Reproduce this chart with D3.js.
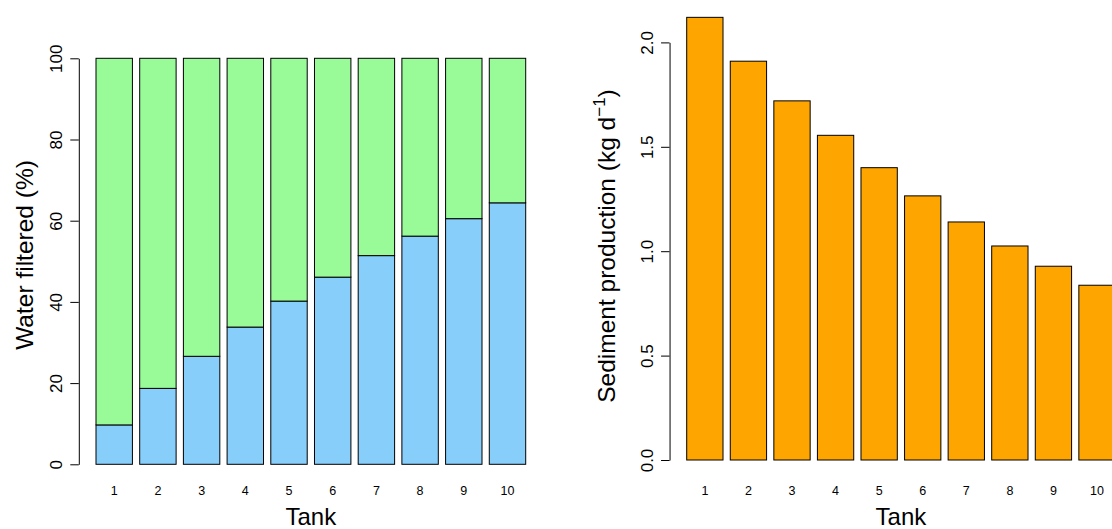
<!DOCTYPE html>
<html>
<head>
<meta charset="utf-8">
<script src="https://cdn.jsdelivr.net/npm/d3@7"></script>
<style>
  body { margin: 0; background: #fff; }
  svg { display: block; font-family: "Liberation Sans", Arial, sans-serif; }
  .axis path, .axis line { stroke: #000; }
</style>
</head>
<body>
<div id="plot"></div>
<script>
let tanks = ['1', '2', '3', '4', '5', '6', '7', '8', '9', '10'];
let filtered = [9.7, 18.7, 26.6, 33.8, 40.2, 46.1, 51.4, 56.2, 60.5, 64.4];
let unfiltered = [90.3, 81.3, 73.4, 66.2, 59.8, 53.9, 48.6, 43.8, 39.5, 35.6];
let sediment = [2.12, 1.91, 1.72, 1.555, 1.40, 1.265, 1.14, 1.025, 0.928, 0.837];
let pctTicks = [0, 20, 40, 60, 80, 100];
let sedTicks = [0, 0.5, 1.0, 1.5, 2.0];

let svgWidth = 1112;
let svgHeight = 529;

let $svg = d3.select('#plot')
    .append('svg')
    .attr('width', svgWidth)
    .attr('height', svgHeight);

// bar positions in R barplot units: width 1, space 0.2
let barLeft = i => 0.2 + i * 1.2;
let xlim = [0.2, 12];
let ext = (xlim[1] - xlim[0]) * 0.04;

// ---- Left panel: water filtered ----
let xLeft = d3.scaleLinear().domain(xlim).range([96, 525.7]);
let yLeft = d3.scaleLinear().domain([0, 100]).range([464.3, 58.3]);

let stackData = tanks.map((t, i) => ({ tank: t, filtered: filtered[i], unfiltered: unfiltered[i] }));
let series = d3.stack().keys(['filtered', 'unfiltered'])(stackData);
let fills = { filtered: '#87CEFA', unfiltered: '#98FB98' };

let $left = $svg.append('g');

series.forEach(s => {
    $left.selectAll(null)
        .data(s)
        .enter()
        .append('rect')
        .attr('x', (d, i) => xLeft(barLeft(i)))
        .attr('width', xLeft(1) - xLeft(0))
        .attr('y', d => yLeft(d[1]))
        .attr('height', d => yLeft(d[0]) - yLeft(d[1]))
        .attr('fill', fills[s.key])
        .attr('stroke', '#000')
        .attr('stroke-width', 1);
});

let leftAxisX = xLeft(xlim[0] - ext);
let $yAxisL = $left.append('g')
    .attr('class', 'axis')
    .attr('transform', `translate(${leftAxisX}, 0)`)
    .call(d3.axisLeft(yLeft).tickValues(pctTicks).tickSize(8.5).tickSizeOuter(0).tickFormat(d3.format('d')));
$yAxisL.select('.domain').attr('stroke', '#000');
$yAxisL.selectAll('text')
    .attr('x', null)
    .attr('dy', null)
    .attr('fill', '#000')
    .attr('font-size', 17)
    .attr('text-anchor', 'middle')
    .attr('font-family', '"Liberation Sans", Arial, sans-serif')
    .attr('transform', 'translate(-16.5, 0) rotate(-90)');

$left.selectAll('.tank-label')
    .data(tanks)
    .enter()
    .append('text')
    .attr('class', 'tank-label')
    .attr('x', (d, i) => xLeft(barLeft(i) + 0.5))
    .attr('y', 495)
    .attr('text-anchor', 'middle')
    .attr('font-size', 12.5)
    .text(d => d);

let leftCenterX = (xLeft(xlim[0] - ext) + xLeft(xlim[1] + ext)) / 2;
$left.append('text')
    .attr('x', leftCenterX)
    .attr('y', 525)
    .attr('text-anchor', 'middle')
    .attr('font-size', 24)
    .text('Tank');

$left.append('text')
    .attr('transform', 'translate(33, 255) rotate(-90)')
    .attr('text-anchor', 'middle')
    .attr('font-size', 24.5)
    .text('Water filtered (%)');

// ---- Right panel: sediment production ----
let xRight = d3.scaleLinear().domain(xlim).range([686.7, 686.7 + 11.8 * 36.31]);
let yRight = d3.scaleLinear().domain([0, 2]).range([460, 42.4]);

let $right = $svg.append('g');

$right.selectAll('rect')
    .data(sediment)
    .enter()
    .append('rect')
    .attr('x', (d, i) => xRight(barLeft(i)))
    .attr('width', xRight(1) - xRight(0))
    .attr('y', d => yRight(d))
    .attr('height', d => yRight(0) - yRight(d))
    .attr('fill', '#FFA500')
    .attr('stroke', '#000')
    .attr('stroke-width', 1);

let rightAxisX = xRight(xlim[0] - ext);
let $yAxisR = $right.append('g')
    .attr('class', 'axis')
    .attr('transform', `translate(${rightAxisX}, 0)`)
    .call(d3.axisLeft(yRight).tickValues(sedTicks).tickSize(8.5).tickSizeOuter(0).tickFormat(d3.format('.1f')));
$yAxisR.select('.domain').attr('stroke', '#000');
$yAxisR.selectAll('text')
    .attr('x', null)
    .attr('dy', null)
    .attr('fill', '#000')
    .attr('font-size', 17)
    .attr('text-anchor', 'middle')
    .attr('font-family', '"Liberation Sans", Arial, sans-serif')
    .attr('transform', 'translate(-17, 0) rotate(-90)');

$right.selectAll('.tank-label')
    .data(tanks)
    .enter()
    .append('text')
    .attr('class', 'tank-label')
    .attr('x', (d, i) => xRight(barLeft(i) + 0.5))
    .attr('y', 495)
    .attr('text-anchor', 'middle')
    .attr('font-size', 12.5)
    .text(d => d);

let rightCenterX = (xRight(xlim[0] - ext) + xRight(xlim[1] + ext)) / 2;
$right.append('text')
    .attr('x', rightCenterX)
    .attr('y', 525)
    .attr('text-anchor', 'middle')
    .attr('font-size', 24)
    .text('Tank');

let $ylabR = $right.append('text')
    .attr('transform', 'translate(615, 246) rotate(-90)')
    .attr('text-anchor', 'middle')
    .attr('font-size', 24.5);
$ylabR.append('tspan').text('Sediment production  (kg d');
$ylabR.append('tspan').attr('font-size', 17).attr('dy', -10).text('\u22121');
$ylabR.append('tspan').attr('dy', 10).text(')');
</script>
</body>
</html>
